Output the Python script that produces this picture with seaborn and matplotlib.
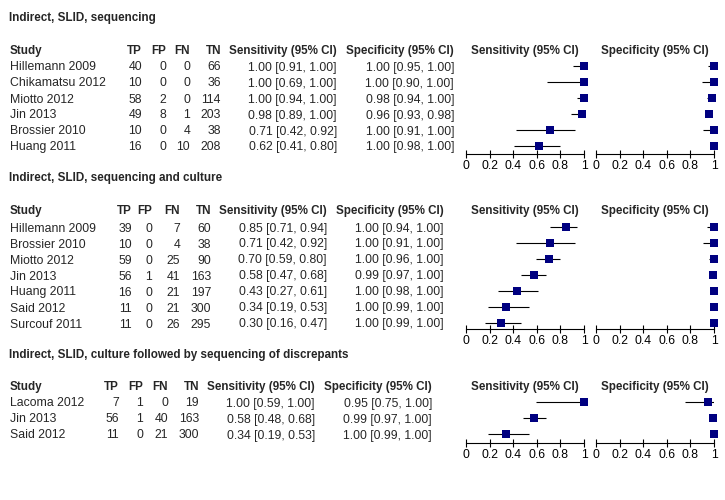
import matplotlib
matplotlib.use('Agg')
import matplotlib.pyplot as plt
import seaborn as sns

sns.set_style('white')
plt.rcParams['font.family'] = ['Liberation Sans', 'DejaVu Sans']

# Section 1: Indirect, SLID, sequencing
s1_title = 'Indirect, SLID, sequencing'
s1_study = ['Hillemann 2009', 'Chikamatsu 2012', 'Miotto 2012', 'Jin 2013', 'Brossier 2010', 'Huang 2011']
s1_tp = [40, 10, 58, 49, 10, 16]
s1_fp = [0, 0, 2, 8, 0, 0]
s1_fn = [0, 0, 0, 1, 4, 10]
s1_tn = [66, 36, 114, 203, 38, 208]
s1_sens = [1.00, 1.00, 1.00, 0.98, 0.71, 0.62]
s1_sens_lo = [0.91, 0.69, 0.94, 0.89, 0.42, 0.41]
s1_sens_hi = [1.00, 1.00, 1.00, 1.00, 0.92, 0.80]
s1_spec = [1.00, 1.00, 0.98, 0.96, 1.00, 1.00]
s1_spec_lo = [0.95, 0.90, 0.94, 0.93, 0.91, 0.98]
s1_spec_hi = [1.00, 1.00, 1.00, 0.98, 1.00, 1.00]

# Section 2: Indirect, SLID, sequencing and culture
s2_title = 'Indirect, SLID, sequencing and culture'
s2_study = ['Hillemann 2009', 'Brossier 2010', 'Miotto 2012', 'Jin 2013', 'Huang 2011', 'Said 2012', 'Surcouf 2011']
s2_tp = [39, 10, 59, 56, 16, 11, 11]
s2_fp = [0, 0, 0, 1, 0, 0, 0]
s2_fn = [7, 4, 25, 41, 21, 21, 26]
s2_tn = [60, 38, 90, 163, 197, 300, 295]
s2_sens = [0.85, 0.71, 0.70, 0.58, 0.43, 0.34, 0.30]
s2_sens_lo = [0.71, 0.42, 0.59, 0.47, 0.27, 0.19, 0.16]
s2_sens_hi = [0.94, 0.92, 0.80, 0.68, 0.61, 0.53, 0.47]
s2_spec = [1.00, 1.00, 1.00, 0.99, 1.00, 1.00, 1.00]
s2_spec_lo = [0.94, 0.91, 0.96, 0.97, 0.98, 0.99, 0.99]
s2_spec_hi = [1.00, 1.00, 1.00, 1.00, 1.00, 1.00, 1.00]

# Section 3: Indirect, SLID, culture followed by sequencing of discrepants
s3_title = 'Indirect, SLID, culture followed by sequencing of discrepants'
s3_study = ['Lacoma 2012', 'Jin 2013', 'Said 2012']
s3_tp = [7, 56, 11]
s3_fp = [1, 1, 0]
s3_fn = [0, 40, 21]
s3_tn = [19, 163, 300]
s3_sens = [1.00, 0.58, 0.34]
s3_sens_lo = [0.59, 0.48, 0.19]
s3_sens_hi = [1.00, 0.68, 0.53]
s3_spec = [0.95, 0.99, 1.00]
s3_spec_lo = [0.75, 0.97, 0.99]
s3_spec_hi = [1.00, 1.00, 1.00]

tick_vals = [0, 0.2, 0.4, 0.6, 0.8, 1]
tick_labels = ['0', '0.2', '0.4', '0.6', '0.8', '1']

W, H = 725, 500
ROW_H = 16
FS = 8.8      # regular text
FS_B = 8.4    # bold headers
NAVY = '#000080'

fig = plt.figure(figsize=(W / 100, H / 100), dpi=100)


def txt(x, y, s, bold=False, **kw):
    # place text using pixel coordinates measured from the top-left corner
    fig.text(x / W, 1 - y / H, s, fontsize=FS_B if bold else FS,
             fontweight='bold' if bold else 'normal', va='center', **kw)


def forest(x0, x1, first_y, axis_y, est, lo, hi):
    top = first_y - 8
    ax = fig.add_axes([x0 / W, 1 - axis_y / H, (x1 - x0) / W, (axis_y - top) / H])
    n = len(est)
    rows = list(range(n))
    ax.hlines(rows, lo, hi, color='black', lw=0.8)
    sns.scatterplot(x=est, y=rows, marker='s', color=NAVY, edgecolor=NAVY,
                    s=26, linewidth=0, ax=ax, clip_on=False, zorder=3)
    ax.set_xlim(0, 1)
    ax.set_ylim((axis_y - first_y) / ROW_H, -8 / ROW_H)
    for side in ['top', 'left', 'right']:
        ax.spines[side].set_visible(False)
    ax.spines['bottom'].set_color('black')
    ax.spines['bottom'].set_linewidth(0.8)
    ax.set_yticks([])
    ax.set_xticks(tick_vals)
    ax.set_xticklabels(tick_labels)
    ax.tick_params(axis='x', direction='inout', length=6, width=0.8,
                   pad=1, labelsize=FS, colors='black', bottom=True)
    ax.patch.set_alpha(0)
    ax.set_xlabel('')
    ax.set_ylabel('')
    return ax


def section(title, title_y, head_y, first_y, axis_y, cols,
            study, tp, fp, fn, tn, sens, sens_lo, sens_hi, spec, spec_lo, spec_hi):
    x_tp, x_fp, x_fn, x_tn, x_se, x_sp = cols
    txt(9, title_y, title, bold=True)
    txt(10, head_y, 'Study', bold=True)
    for x, h in zip(cols, ['TP', 'FP', 'FN', 'TN', 'Sensitivity (95% CI)', 'Specificity (95% CI)']):
        txt(x, head_y, h, bold=True, ha='right')
    txt(525, head_y, 'Sensitivity (95% CI)', bold=True, ha='center')
    txt(655, head_y, 'Specificity (95% CI)', bold=True, ha='center')
    for i in range(len(study)):
        y = first_y + i * ROW_H + 1.5
        txt(10, y, study[i])
        txt(x_tp, y, str(tp[i]), ha='right')
        txt(x_fp, y, str(fp[i]), ha='right')
        txt(x_fn, y, str(fn[i]), ha='right')
        txt(x_tn, y, str(tn[i]), ha='right')
        txt(x_se, y, f'{sens[i]:.2f} [{sens_lo[i]:.2f}, {sens_hi[i]:.2f}]', ha='right')
        txt(x_sp, y, f'{spec[i]:.2f} [{spec_lo[i]:.2f}, {spec_hi[i]:.2f}]', ha='right')
    forest(466, 584, first_y, axis_y, sens, sens_lo, sens_hi)
    forest(596, 714, first_y, axis_y, spec, spec_lo, spec_hi)


section(s1_title, 18, 51, 66, 154, [142, 166, 190, 221, 337, 454],
        s1_study, s1_tp, s1_fp, s1_fn, s1_tn,
        s1_sens, s1_sens_lo, s1_sens_hi, s1_spec, s1_spec_lo, s1_spec_hi)
section(s2_title, 178, 211, 227, 329, [132, 152, 180, 211, 327, 444],
        s2_study, s2_tp, s2_fp, s2_fn, s2_tn,
        s2_sens, s2_sens_lo, s2_sens_hi, s2_spec, s2_spec_lo, s2_spec_hi)
section(s3_title, 355, 387, 402, 443, [119, 143, 168, 199, 315, 432],
        s3_study, s3_tp, s3_fp, s3_fn, s3_tn,
        s3_sens, s3_sens_lo, s3_sens_hi, s3_spec, s3_spec_lo, s3_spec_hi)

fig.savefig('out.png', dpi=100, facecolor='white')
